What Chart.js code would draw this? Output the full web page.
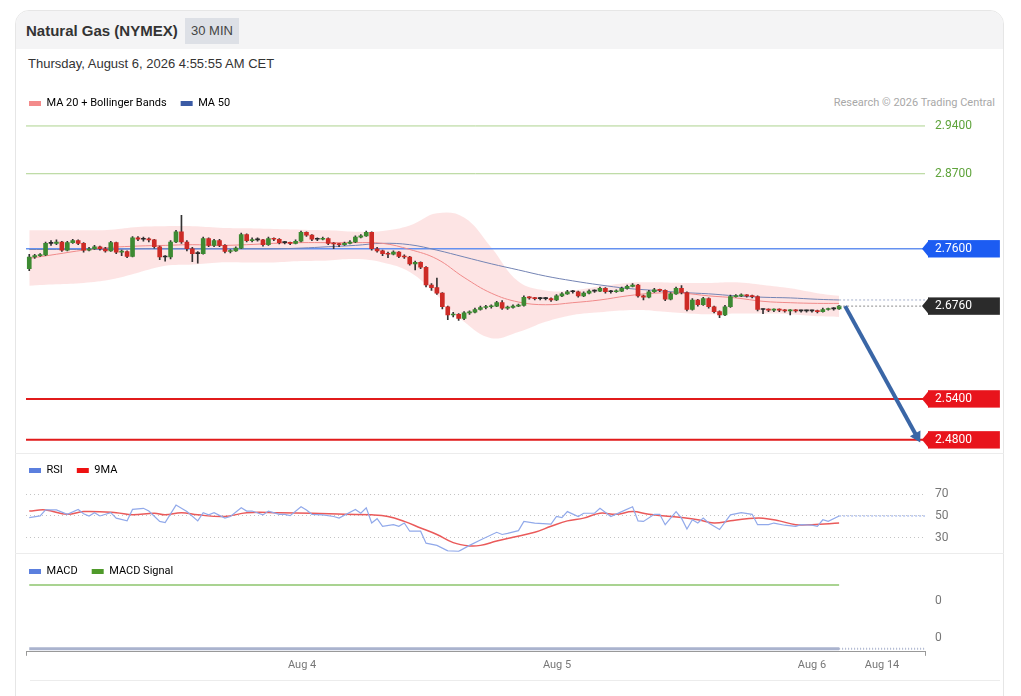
<!DOCTYPE html>
<html>
<head>
<meta charset="utf-8">
<script src="https://cdn.jsdelivr.net/npm/chart.js@4.4.1/dist/chart.umd.min.js"></script>
<style>
  body { margin: 0; background: #fff; font-family: "Liberation Sans", Arial, sans-serif; }
  .card { position: absolute; left: 15px; top: 10px; width: 987px; height: 720px; border: 1px solid #e6e6e6; border-radius: 14px; overflow: hidden; }
  .head { position: absolute; left: 0; top: 0; width: 100%; height: 38px; background: #f4f4f5; }
  .title { position: absolute; left: 26px; top: 22px; font-size: 15px; font-weight: bold; color: #333; }
  .badge { position: absolute; left: 185px; top: 18px; width: 54px; height: 26px; line-height: 26px; text-align: center; background: #dde0e6; font-size: 13px; color: #444; }
  .date { position: absolute; left: 28px; top: 56px; font-size: 13px; color: #333; }
  .credit { position: absolute; right: 26px; top: 96px; font-family: Roboto, sans-serif; font-size: 11px; color: #a8a8a8; }
  .sep { position: absolute; left: 15px; width: 989px; height: 1px; background: #ececec; }
  .box { position: absolute; left: 15px; }
</style>
</head>
<body>
<div class="card"><div class="head"></div></div>
<div class="title">Natural Gas (NYMEX)</div>
<div class="badge">30 MIN</div>
<div class="date">Thursday, August 6, 2026 4:55:55 AM CET</div>
<div class="credit">Research © 2026 Trading Central</div>
<div class="sep" style="top:453px"></div>
<div class="sep" style="top:553px"></div>
<div class="sep" style="top:680px;left:30px;width:970px"></div>

<div class="box" style="top:84px"><canvas id="chartMain" width="989" height="385"></canvas></div>
<div class="box" style="top:451px"><canvas id="chartRsi" width="989" height="118"></canvas></div>
<div class="box" style="top:552px"><canvas id="chartMacd" width="989" height="123"></canvas></div>

<script>
// Candles (30 min), index 0..149
const opens = [2.731,2.748,2.750,2.751,2.768,2.768,2.770,2.758,2.769,2.772,2.768,2.758,2.760,2.763,2.760,2.757,2.769,2.755,2.756,2.749,
  2.776,2.774,2.774,2.773,2.763,2.748,2.748,2.770,2.785,2.770,2.760,2.753,2.753,2.775,2.765,2.772,2.765,2.756,2.757,2.761,
  2.781,2.772,2.773,2.773,2.766,2.775,2.774,2.769,2.769,2.768,2.771,2.784,2.780,2.774,2.774,2.775,2.768,2.767,2.766,2.768,
  2.770,2.777,2.779,2.784,2.760,2.757,2.753,2.752,2.755,2.749,2.748,2.738,2.740,2.733,2.707,2.703,2.695,2.675,2.663,2.664,
  2.658,2.666,2.667,2.671,2.674,2.675,2.676,2.681,2.673,2.674,2.676,2.677,2.689,2.688,2.687,2.687,2.687,2.685,2.691,2.694,
  2.697,2.697,2.691,2.695,2.698,2.698,2.702,2.697,2.697,2.698,2.702,2.705,2.707,2.691,2.689,2.697,2.700,2.699,2.686,2.694,
  2.702,2.696,2.671,2.685,2.678,2.687,2.675,2.668,2.663,2.675,2.690,2.691,2.692,2.691,2.690,2.671,2.671,2.670,2.671,2.670,
  2.669,2.670,2.669,2.669,2.669,2.669,2.668,2.671,2.672,2.672];
const closes = [2.748,2.750,2.751,2.768,2.768,2.770,2.758,2.769,2.772,2.768,2.758,2.760,2.763,2.760,2.757,2.769,2.755,2.756,2.749,2.776,
  2.774,2.774,2.773,2.763,2.748,2.748,2.770,2.785,2.770,2.760,2.753,2.753,2.775,2.765,2.772,2.765,2.756,2.757,2.761,2.781,
  2.772,2.773,2.773,2.766,2.775,2.774,2.769,2.769,2.768,2.771,2.784,2.780,2.774,2.774,2.775,2.768,2.767,2.766,2.768,2.770,
  2.777,2.779,2.784,2.760,2.757,2.753,2.752,2.755,2.749,2.748,2.738,2.740,2.733,2.707,2.703,2.695,2.675,2.663,2.664,2.658,
  2.666,2.667,2.671,2.674,2.675,2.676,2.681,2.673,2.674,2.676,2.677,2.689,2.688,2.687,2.687,2.687,2.685,2.691,2.694,2.697,
  2.697,2.691,2.695,2.698,2.698,2.702,2.697,2.697,2.698,2.702,2.705,2.707,2.691,2.689,2.697,2.700,2.699,2.686,2.694,2.702,
  2.696,2.671,2.685,2.678,2.687,2.675,2.668,2.663,2.675,2.690,2.691,2.692,2.691,2.690,2.671,2.671,2.670,2.671,2.670,2.669,
  2.670,2.669,2.669,2.669,2.669,2.668,2.671,2.672,2.672,2.676];
const highs = [2.752,2.752,2.753,2.770,2.772,2.773,2.771,2.771,2.774,2.773,2.769,2.762,2.765,2.764,2.762,2.771,2.770,2.758,2.757,2.778,
  2.778,2.777,2.776,2.774,2.764,2.750,2.772,2.787,2.809,2.772,2.762,2.756,2.777,2.776,2.774,2.774,2.766,2.759,2.763,2.783,
  2.782,2.776,2.776,2.774,2.777,2.776,2.775,2.771,2.770,2.773,2.786,2.785,2.781,2.776,2.777,2.776,2.769,2.768,2.770,2.772,
  2.779,2.781,2.786,2.785,2.762,2.758,2.755,2.757,2.756,2.751,2.749,2.742,2.741,2.734,2.709,2.717,2.696,2.676,2.667,2.665,
  2.668,2.669,2.673,2.676,2.677,2.678,2.683,2.684,2.676,2.678,2.679,2.691,2.690,2.689,2.689,2.689,2.688,2.693,2.696,2.699,
  2.699,2.698,2.697,2.700,2.700,2.704,2.703,2.699,2.700,2.704,2.707,2.709,2.708,2.692,2.699,2.702,2.701,2.700,2.696,2.704,
  2.706,2.697,2.687,2.686,2.689,2.688,2.676,2.669,2.677,2.692,2.693,2.694,2.693,2.692,2.691,2.672,2.672,2.672,2.672,2.671,
  2.671,2.671,2.670,2.670,2.670,2.670,2.673,2.673,2.674,2.677];
const lows = [2.728,2.746,2.749,2.750,2.765,2.766,2.756,2.757,2.768,2.766,2.755,2.757,2.759,2.758,2.755,2.756,2.753,2.750,2.747,2.748,
  2.772,2.771,2.770,2.761,2.744,2.742,2.745,2.769,2.768,2.757,2.741,2.739,2.752,2.763,2.763,2.763,2.754,2.754,2.756,2.760,
  2.770,2.770,2.771,2.764,2.765,2.772,2.767,2.767,2.766,2.767,2.770,2.778,2.772,2.772,2.773,2.766,2.760,2.763,2.765,2.767,
  2.769,2.776,2.778,2.758,2.755,2.750,2.747,2.751,2.747,2.746,2.736,2.729,2.731,2.704,2.699,2.693,2.672,2.656,2.660,2.655,
  2.656,2.664,2.666,2.670,2.672,2.673,2.675,2.671,2.671,2.673,2.675,2.676,2.686,2.685,2.685,2.685,2.683,2.684,2.690,2.693,
  2.695,2.689,2.690,2.694,2.696,2.697,2.695,2.695,2.696,2.697,2.701,2.704,2.689,2.685,2.688,2.696,2.697,2.684,2.685,2.693,
  2.694,2.669,2.670,2.676,2.677,2.673,2.666,2.659,2.662,2.674,2.689,2.690,2.689,2.688,2.669,2.665,2.668,2.668,2.668,2.667,
  2.663,2.667,2.667,2.667,2.667,2.666,2.667,2.670,2.670,2.671];

// Indicators sampled every 5 candles
const bandIdx = [0,5,10,15,20,25,30,35,40,45,50,55,60,65,70,75,80,85,90,95,100,105,110,115,120,125,130,135,140,145,149];
const ma20 = [2.746,2.752,2.758,2.762,2.764,2.765,2.766,2.765,2.766,2.768,2.769,2.769,2.769,2.768,2.759,2.745,2.718,2.695,2.682,2.678,
  2.681,2.685,2.691,2.695,2.695,2.691,2.688,2.683,2.681,2.680,2.680];
const bbUpper = [2.787,2.787,2.787,2.788,2.792,2.793,2.793,2.791,2.790,2.789,2.788,2.787,2.785,2.786,2.794,2.812,2.806,2.762,2.712,2.699,
  2.699,2.705,2.710,2.711,2.710,2.710,2.711,2.707,2.702,2.695,2.691];
const bbLower = [2.706,2.708,2.710,2.715,2.725,2.735,2.737,2.740,2.740,2.740,2.742,2.743,2.745,2.740,2.726,2.692,2.653,2.629,2.638,2.653,
  2.663,2.667,2.670,2.669,2.666,2.664,2.665,2.665,2.664,2.661,2.660];
const ma50 = [2.759,2.759,2.759,2.759,2.760,2.760,2.760,2.760,2.760,2.760,2.761,2.763,2.765,2.768,2.766,2.758,2.748,2.738,2.729,2.720,
  2.713,2.707,2.702,2.699,2.696,2.694,2.691,2.689,2.688,2.686,2.685];

// Price levels on the right scale
const levelValues = [2.94, 2.87, 2.76, 2.676, 2.54, 2.48];

// RSI and its 9 period MA
const rsiIdx = [0,2,3,5,7,9,10,11,12,13,15,16,18,19,21,22,24,25,27,29,31,32,33,34,36,37,39,40,41,43,44,46,47,48,50,51,52,54,56,57,
  60,61,62,63,64,65,67,68,69,70,72,73,75,77,79,81,83,86,87,88,90,91,93,96,97,98,99,101,102,104,105,107,109,111,112,113,115,116,117,119,
  120,121,122,123,124,125,127,129,131,133,134,136,137,139,141,142,144,145,146,147,149];
const rsiVals = [48.5,50,55.5,55.5,51.5,56,52,50,53,50,53,48,45.5,56,57,54.5,45,44,60,54,45.5,53,51,53,48,49.5,57.5,54.5,54.5,51,
  54.5,51.5,51.5,50.3,58.5,55.5,51.5,51,49.5,48,56,52.5,57.5,43.5,47.5,40.5,42,40.5,43.5,36,36,25,23,18,17.5,23,28,35,33,34,
  36.5,45,43.5,42.5,49.5,48.5,54,49.5,52.5,52.5,57,49.5,54,58.5,45.5,45,51.5,51.5,42,54,48,38,46.5,43.5,48,43.5,37.5,51,53,51.5,
  42,42,43.5,41.5,40.5,42,41.5,40.5,46.5,45,50];
const rsiMaIdx = [0,3,7,10,16,19,23,25,28,31,36,40,46,52,58,63,66,69,72,75,78,81,83,86,89,93,96,99,102,105,108,111,114,117,120,123,126,129,132,135,
  138,141,144,149];
const rsiMaVals = [54.5,55.5,51.5,54,53,51,52.5,51,53,51,49.5,53,53,52.5,51.5,51,49.5,45,39,33,25.5,22.5,23,27,30.5,35,40.5,45.5,48,52.5,
  51.5,54,51.5,50,48.5,46.5,43.5,45.5,47.5,48,45.5,42,42,43.5];
const rsiTicks = [70, 50, 30];

// MACD panel (flat lines)
const macdIdx = [0, 149];
const macdVals = [-0.00319, -0.00319];
const signalVals = [0.00373, 0.00373];
const macdTicks = [0.002, -0.002];

// Time axis
const tickPos = [50.2, 97.1, 144.0, 156.9];
const tickLabels = ["Aug 4", "Aug 5", "Aug 6", "Aug 14"];

const X_MIN = -0.6, X_MAX = 164.8;
const GREEN = "#3d8a32", RED = "#cd2b26";

Chart.defaults.font.family = "Roboto";
Chart.defaults.animation = false;

const pts = (xs, ys) => xs.map((x, k) => ({ x: x, y: ys[k] }));
// every dataset sits on the right axis
const onY = (list) => list.map((d) => Object.assign({ yAxisID: "y", xAxisID: "x" }, d));

// Legend of fixed items
const legendOpts = (items) => ({
  display: true,
  position: "top",
  align: "start",
  onClick: null,
  labels: {
    boxWidth: 12,
    boxHeight: 5,
    padding: 14,
    color: "#8a8a8a",
    font: { size: 11 },
    generateLabels: () => items.map((it) => ({ text: it[0], fillStyle: it[1], strokeStyle: it[1], lineWidth: 0, hidden: false })),
  },
});

const xScale = (show) => ({
  type: "linear",
  min: X_MIN,
  max: X_MAX,
  offset: false,
  display: show,
});

// Invisible left axis just to keep the plot left edge
const leftPad = { position: "left", display: true, grid: { display: false }, border: { display: false }, ticks: { display: false }, afterFit: (s) => { s.width = 11; } };

const levelLine = (v, color, w) => ({
  type: "line",
  data: [{ x: X_MIN, y: v }, { x: X_MAX, y: v }],
  borderColor: color,
  borderWidth: w,
  pointRadius: 0,
  order: 5,
});

// Arrow tip next to the value boxes
const levelBoxes = [null, null, "#1c5cf2", "#2b2b2b", "#e8141c", "#e8141c"];
const tipPlugin = {
  id: "tips",
  afterDraw(chart) {
    const sc = chart.scales.y;
    const ctx = chart.ctx;
    levelValues.forEach((v, k) => {
      if (!levelBoxes[k]) return;
      const py = sc.getPixelForValue(v);
      const x0 = sc.left + 3;
      ctx.fillStyle = levelBoxes[k];
      ctx.beginPath();
      ctx.moveTo(x0 + 1, py - 8.5);
      ctx.lineTo(x0 - 6, py);
      ctx.lineTo(x0 + 1, py + 8.5);
      ctx.fill();
    });
  },
};

const bodyColors = closes.map((c, i) => (c > opens[i] ? GREEN : c < opens[i] ? RED : "#2a2a2a"));

new Chart(document.getElementById("chartMain"), {
  type: "line",
  data: {
    datasets: onY([
      { data: pts(bandIdx, bbUpper), borderWidth: 0, backgroundColor: "rgba(250,170,170,0.32)", fill: "+1", tension: 0.4, pointRadius: 0, order: 10 },
      { data: pts(bandIdx, bbLower), borderWidth: 0, fill: false, tension: 0.4, pointRadius: 0, order: 10 },
      levelLine(2.94, "#add38f", 1),
      levelLine(2.87, "#add38f", 1),
      levelLine(2.76, "#6591f0", 1.6),
      levelLine(2.54, "#e11b1b", 2),
      levelLine(2.48, "#e11b1b", 2),
      { data: pts(bandIdx, ma20), borderColor: "#f08a8a", borderWidth: 1, tension: 0.4, pointRadius: 0, order: 4 },
      { data: pts(bandIdx, ma50), borderColor: "#7484b4", borderWidth: 1, tension: 0.4, pointRadius: 0, order: 4 },
      {
        type: "bar",
        data: highs.map((h, i) => ({ x: i, y: [lows[i], h] })),
        backgroundColor: "#333",
        barThickness: 1,
        grouped: false,
        order: 3,
      },
      {
        type: "bar",
        data: opens.map((o, i) => ({ x: i, y: [o, closes[i]] })),
        backgroundColor: bodyColors,
        barThickness: 4,
        minBarLength: 1,
        grouped: false,
        order: 2,
      },
      { data: [{ x: 149, y: ma50[ma50.length - 1] }, { x: X_MAX, y: ma50[ma50.length - 1] }], borderColor: "#a3aecb", borderWidth: 1, borderDash: [2, 2], pointRadius: 0, order: 1 },
      { data: [{ x: 149, y: closes[149] }, { x: X_MAX, y: closes[149] }], borderColor: "#8c8c8c", borderWidth: 1, borderDash: [2, 2], pointRadius: 0, order: 1 },
      {
        data: [{ x: 150.1, y: closes[149] }, { x: 163.3, y: 2.485 }],
        borderColor: "#3a66a6",
        borderWidth: 4,
        pointRadius: [0, 7],
        pointStyle: "triangle",
        pointRotation: 151,
        pointBackgroundColor: "#3a66a6",
        pointBorderWidth: 0,
        order: 0,
      },
    ]),
  },
  options: {
    responsive: false,
    events: [],
    layout: { autoPadding: false },
    plugins: {
      legend: legendOpts([["MA 20 + Bollinger Bands", "#f38b8b"], ["MA 50", "#3b5ba5"]]),
      tooltip: { enabled: false },
    },
    scales: {
      x: xScale(false),
      y: {
        position: "right",
        min: 2.4625,
        max: 2.9502,
        grid: { display: false, drawTicks: false },
        border: { display: false },
        afterBuildTicks: (s) => { s.ticks = levelValues.map((v) => ({ value: v })); },
        afterFit: (s) => { s.width = 79; },
        ticks: {
          autoSkip: false,
          padding: 10,
          font: { size: 12 },
          color: (ctx) => (ctx.index < 2 ? "#5ea33a" : "#ffffff"),
          showLabelBackdrop: true,
          backdropColor: (ctx) => levelBoxes[ctx.index] || "rgba(0,0,0,0)",
          backdropPadding: { left: 7, right: 28, top: 1.5, bottom: 1.5 },
          callback: (v) => v.toFixed(4),
        },
      },
      yl: leftPad,
    },
  },
  plugins: [tipPlugin],
});

new Chart(document.getElementById("chartRsi"), {
  type: "line",
  data: {
    datasets: onY([
      { data: pts(rsiIdx, rsiVals), borderColor: "#91a9ea", borderWidth: 1.2, pointRadius: 0, tension: 0 },
      { data: pts(rsiMaIdx, rsiMaVals), borderColor: "#ea5a5a", borderWidth: 1.5, pointRadius: 0, tension: 0.4 },
      { data: [{ x: 149, y: 50 }, { x: X_MAX, y: 50 }], borderColor: "#8ea6e6", borderWidth: 1, borderDash: [2, 2], pointRadius: 0 },
    ]),
  },
  options: {
    responsive: false,
    events: [],
    layout: { autoPadding: false },
    plugins: {
      legend: legendOpts([["RSI", "#5b7fde"], ["9MA", "#ee1111"]]),
      tooltip: { enabled: false },
    },
    scales: {
      x: xScale(false),
      y: {
        position: "right",
        min: 17.1,
        max: 77.5,
        grid: { color: "#c4c4c4", drawTicks: false, borderDash: [1, 3] },
        border: { display: false, dash: [1, 3] },
        afterBuildTicks: (s) => { s.ticks = rsiTicks.map((v) => ({ value: v })); },
        afterFit: (s) => { s.width = 79; },
        ticks: { padding: 10, color: "#777", font: { size: 12 } },
      },
      yl: leftPad,
    },
  },
});

new Chart(document.getElementById("chartMacd"), {
  type: "line",
  data: {
    datasets: onY([
      { data: pts(macdIdx, signalVals), borderColor: "#8cc56c", borderWidth: 1.5, pointRadius: 0, clip: false },
      { data: pts(macdIdx, macdVals), borderColor: "#aab3ce", borderWidth: 3, pointRadius: 0 },
      { data: [{ x: 149, y: macdVals[1] }, { x: X_MAX, y: macdVals[1] }], borderColor: "#aab3ce", borderWidth: 2, borderDash: [1, 2], pointRadius: 0 },
    ]),
  },
  options: {
    responsive: false,
    events: [],
    layout: { autoPadding: false },
    plugins: {
      legend: legendOpts([["MACD", "#5b7fde"], ["MACD Signal", "#4f9a2a"]]),
      tooltip: { enabled: false },
    },
    scales: {
      x: {
        type: "linear",
        min: X_MIN,
        max: X_MAX,
        offset: false,
        afterBuildTicks: (s) => { s.ticks = [X_MIN].concat(tickPos, [X_MAX]).map((v) => ({ value: v })); },
        grid: {
          drawOnChartArea: false,
          drawTicks: true,
          tickLength: 4,
          color: (ctx) => (ctx.tick && (ctx.tick.value === X_MIN || ctx.tick.value === X_MAX) ? "#999" : "rgba(0,0,0,0)"),
        },
        border: { display: true, color: "#999" },
        ticks: {
          autoSkip: false,
          maxRotation: 0,
          padding: 3,
          color: "#777",
          font: { size: 11 },
          callback: (v) => {
            const k = tickPos.indexOf(v);
            return k >= 0 ? tickLabels[k] : "";
          },
        },
      },
      y: {
        position: "right",
        min: -0.003514,
        max: 0.003514,
        grid: { display: false, drawTicks: false },
        border: { display: false },
        afterBuildTicks: (s) => { s.ticks = macdTicks.map((v) => ({ value: v })); },
        afterFit: (s) => { s.width = 79; },
        ticks: { padding: 10, color: "#777", font: { size: 12 }, callback: () => "0" },
      },
      yl: leftPad,
    },
  },
});
</script>
</body>
</html>
